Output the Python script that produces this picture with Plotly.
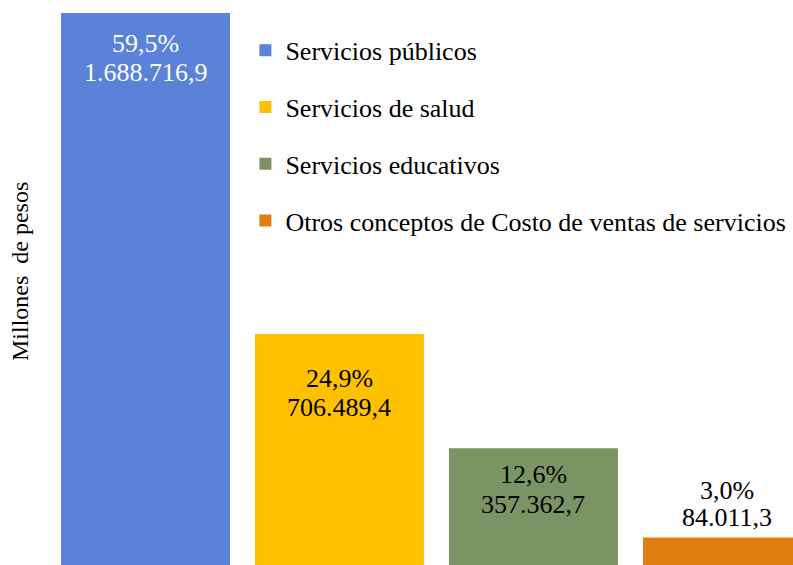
import plotly.graph_objects as go

categories = ["Servicios públicos", "Servicios de salud", "Servicios educativos",
              "Otros conceptos de Costo de ventas de servicios"]
values = [1688716.9, 706489.4, 357362.7, 84011.3]
percents = [59.5, 24.9, 12.6, 3.0]
colors = ["#5982D8", "#FFC000", "#7C9363", "#E07E12"]
label_colors = ["white", "black", "black", "black"]
pct_shift = [-30, -44, -26, 47]
val_shift = [-59, -73, -56, 20]
bar_width = 0.871

FONT = "Liberation Serif, Times New Roman, serif"


def fmt_num(v):
    s = f"{v:,.1f}"
    return s.replace(",", "X").replace(".", ",").replace("X", ".")


def fmt_pct(p):
    return f"{p:.1f}%".replace(".", ",")


fig = go.Figure()
for i, (c, v) in enumerate(zip(categories, values)):
    fig.add_trace(go.Bar(
        x=[i], y=[v], name=c, marker=dict(color=colors[i], line=dict(width=0)),
        width=bar_width, legendgroup=f"g{i}", hoverinfo="skip",
    ))
    for txt, sh in ((fmt_pct(percents[i]), pct_shift[i]), (fmt_num(v), val_shift[i])):
        fig.add_annotation(
            x=i, y=v, yanchor="middle", yshift=sh, showarrow=False, text=txt,
            font=dict(family=FONT, size=26, color=label_colors[i]),
        )

fig.add_annotation(
    xref="paper", yref="paper", x=-0.043, y=0.531, xanchor="center", yanchor="middle",
    textangle=-90, showarrow=False, text="Millones  de pesos",
    font=dict(family=FONT, size=24, color="black"),
)

fig.update_layout(
    width=793, height=565,
    margin=dict(l=52, r=0, t=13, b=0, autoexpand=False),
    paper_bgcolor="white", plot_bgcolor="white",
    barmode="overlay",
    font=dict(family=FONT, size=26, color="black"),
    showlegend=True,
    legend=dict(x=0.261, y=0.975, xanchor="left", yanchor="top",
                tracegroupgap=20, font=dict(family=FONT, size=26, color="black"),
                bgcolor="rgba(0,0,0,0)"),
    xaxis=dict(range=[-0.482, 3.338], showticklabels=False, showgrid=False,
               zeroline=False, showline=False, ticks="", automargin=False),
    yaxis=dict(range=[0, values[0]], showticklabels=False, showgrid=False,
               zeroline=False, showline=False, ticks="", automargin=False),
)

fig.write_html("out.html", config={"displayModeBar": False},
               post_script="document.body.style.margin='0';document.body.style.overflow='hidden';")
